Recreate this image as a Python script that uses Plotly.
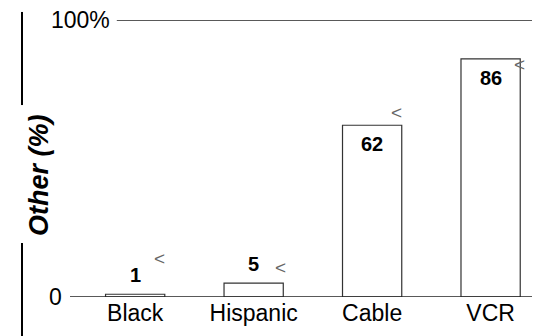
import plotly.graph_objects as go

categories = ["Black", "Hispanic", "Cable", "VCR"]
values = [1, 5, 62, 86]

FONT = "Liberation Sans, Arial, sans-serif"

fig = go.Figure()

fig.add_trace(go.Bar(
    x=categories,
    y=values,
    width=0.5,
    marker=dict(color="white", line=dict(color="#333333", width=1.2)),
    showlegend=False,
    hoverinfo="skip",
))

# value labels: small ones above the bar, big ones inside
for cat, v in zip(categories, values):
    if v < 20:
        fig.add_annotation(x=cat, y=v, text="<b>%d</b>" % v, showarrow=False,
                           yanchor="bottom", yshift=6,
                           font=dict(family=FONT, size=20, color="black"))
    else:
        fig.add_annotation(x=cat, y=v, text="<b>%d</b>" % v, showarrow=False,
                           yanchor="top", yshift=-6,
                           font=dict(family=FONT, size=20, color="black"))

# little "<" marks next to every label (pixel offsets from bar top right)
marks = [(24, 36), (27, 16), (24, 13), (29, -6)]
for cat, v, (dx, dy) in zip(categories, values, marks):
    fig.add_annotation(x=cat, y=v, text="<", showarrow=False,
                       xshift=dx, yshift=dy,
                       font=dict(family=FONT, size=19, color="#666666"))

# 100% line and zero line
fig.add_shape(type="line", xref="paper", yref="y", x0=0.1, x1=1, y0=100, y1=100,
              line=dict(color="#222222", width=1.4))
fig.add_shape(type="line", xref="paper", yref="y", x0=0, x1=1, y0=0, y1=0,
              line=dict(color="#222222", width=1.4))
fig.add_annotation(xref="paper", yref="y", x=0.1, y=100, xanchor="right", xshift=-5,
                   text="100%", showarrow=False,
                   font=dict(family=FONT, size=23, color="black"))
fig.add_annotation(xref="paper", yref="y", x=0, y=0, xanchor="right", xshift=-6,
                   text="0", showarrow=False,
                   font=dict(family=FONT, size=23, color="black"))

# left rule with the axis title in a gap
fig.add_shape(type="line", xref="paper", yref="paper", x0=-0.1026, x1=-0.1026,
              y0=1.029, y1=0.693, line=dict(color="black", width=2))
fig.add_shape(type="line", xref="paper", yref="paper", x0=-0.1026, x1=-0.1026,
              y0=0.195, y1=-0.15, line=dict(color="black", width=2))
fig.add_annotation(xref="paper", yref="paper", x=-0.1026, y=0.44, textangle=-90,
                   text="<b><i>Other (%)</i></b>", showarrow=False,
                   font=dict(family=FONT, size=27, color="black"))

# page body has an 8px margin, so the margins are offset to compensate
fig.update_layout(
    width=540, height=336,
    margin=dict(l=62, r=10, t=12, b=47),
    paper_bgcolor="white",
    plot_bgcolor="white",
    bargap=0.5,
    xaxis=dict(range=[-0.55, 3.4], showgrid=False, zeroline=False, showline=False,
               ticks="", tickfont=dict(family=FONT, size=23, color="black")),
    yaxis=dict(range=[0, 100], showgrid=False, zeroline=False, showline=False,
               showticklabels=False, ticks=""),
)

fig.write_html("out.html")
